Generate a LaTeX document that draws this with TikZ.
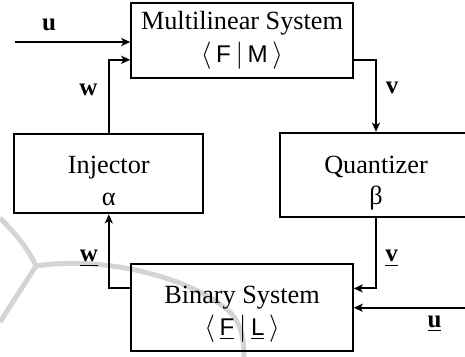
\documentclass[tikz,border=0pt]{standalone}
\usepackage{fontspec}
\setmainfont{Liberation Serif}
\setsansfont[Scale=0.92]{Liberation Sans}
\usetikzlibrary{arrows.meta,positioning,calc}
\definecolor{wmgray}{RGB}{212,212,212}

\begin{document}
\begin{tikzpicture}[x=0.4pt,y=-0.4pt,
    block/.style={draw,line width=0.8pt,inner sep=0pt},
    blocktxt/.style={align=center,inner sep=0pt,font=\fontsize{10.5}{12.6}\selectfont},
    link/.style={line width=0.8pt,-{Stealth[length=3.6pt,width=3.2pt,inset=0.9pt]}}]
    \useasboundingbox (0,0) rectangle (465,356);
    \clip (0,0) rectangle (465,356);
    % faint watermark behind the loop
    \draw[wmgray,line width=2pt] (0,218) .. controls (16,234) and (29,250) .. (36,266)
      .. controls (22,288) and (10,306) .. (0,322);
    \draw[wmgray,line width=2pt] (36,266) .. controls (110,255) and (195,280) .. (230,312)
      .. controls (242,325) and (244,340) .. (244,358);
    % blocks
    \node[block,minimum width=88.6pt,minimum height=30.1pt] (mls) at (242,40.3) {};
    \node[block,minimum width=75.5pt,minimum height=31.7pt] (inj) at (108.8,173.7) {};
    \node[block,minimum width=76.8pt,minimum height=33.8pt] (qnt) at (376,175) {};
    \node[block,minimum width=88.6pt,minimum height=34.7pt] (bin) at (242,307.4) {};
    \node[blocktxt] (mlstxt) at (mls)
      {Multilinear System\\[0.8pt]$\langle\,\textsf{F}\,|\,\textsf{M}\,\rangle$};
    \node[blocktxt] (injtxt) at ([yshift=-2.9pt]inj.center) {Injector\\α};
    \node[blocktxt] (qnttxt) at ([yshift=-3.2pt]qnt.center) {Quantizer\\β};
    \node[blocktxt] (bintxt) at ([yshift=-2.8pt]bin.center)
      {Binary System\\$\langle\,\underline{\textsf{F}}\,|\,\underline{\textsf{L}}\,\rangle$};
    % signals
    \coordinate (uin) at (15,42);
    \coordinate (ubin) at (470,307.7);
    \draw[link] (uin) -- (uin -| mls.west);
    \draw[link] (inj.north) |- ([yshift=-7.8pt]mls.west);
    \draw[link] ([yshift=-7.8pt]mls.east) -| (qnt.north);
    \draw[link] (qnt.south) |- ([yshift=7.6pt]bin.east);
    \draw[link] ([yshift=7.8pt]bin.west) -| (inj.south);
    \draw[link] (ubin) -- (ubin -| bin.east);
    % signal labels
    \foreach \name/\pos/\txt in {
      lu/{(49,30)}/{\textbf{u}},
      lw/{(88.5,95)}/{\textbf{w}},
      lv/{(392,93)}/{\textbf{v}},
      lwb/{(89,261.5)}/{\underline{\textbf{w}}},
      lvb/{(391.5,261.5)}/{\underline{\textbf{v}}},
      lub/{(434.5,327)}/{\underline{\textbf{u}}}}{
      \node[anchor=base,inner sep=0pt] (\name) at \pos {\txt};
    }
\end{tikzpicture}
\end{document}
